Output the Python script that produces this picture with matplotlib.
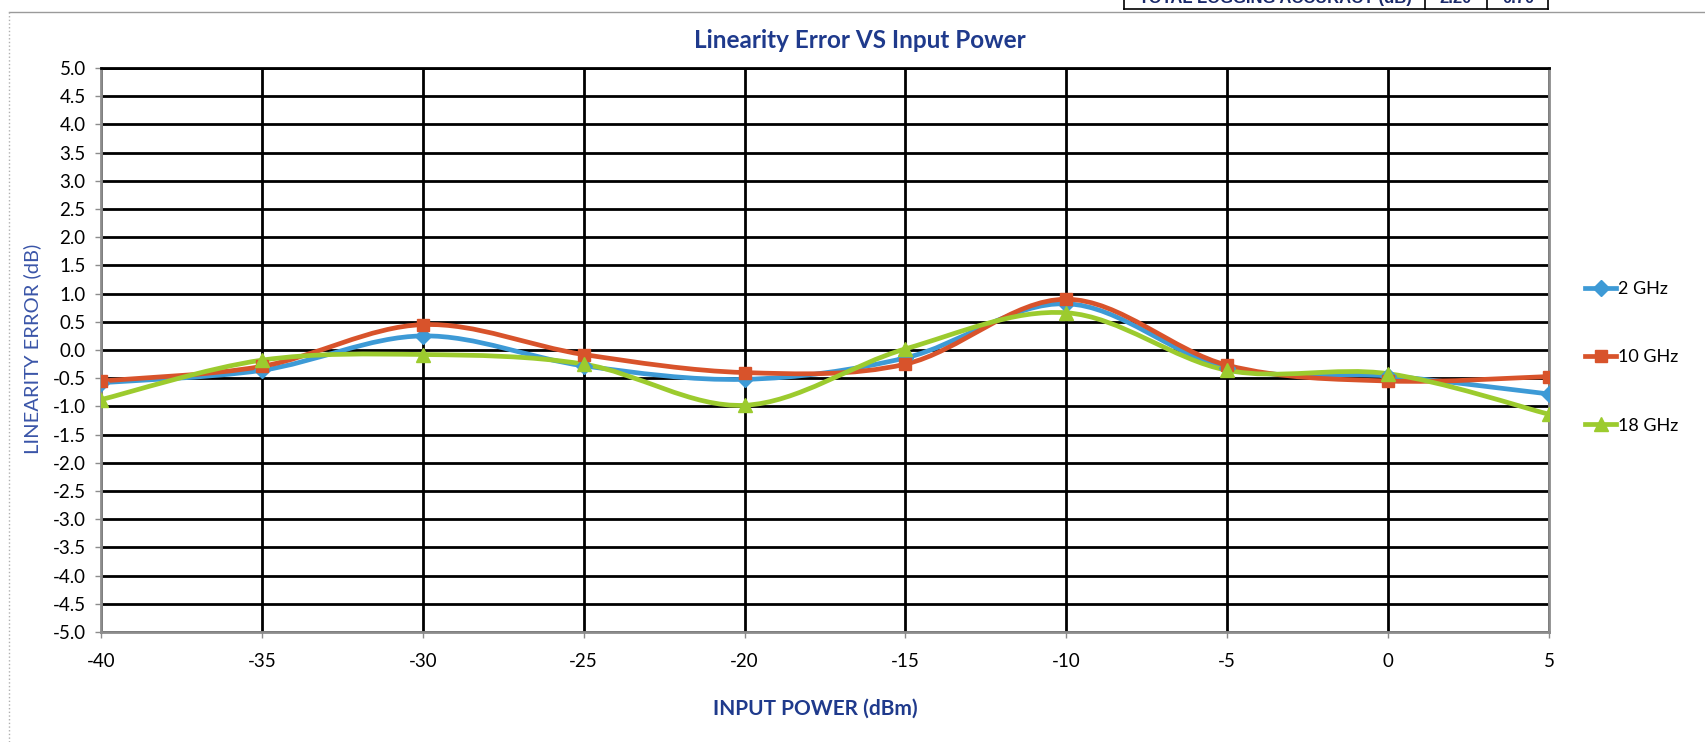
import matplotlib
matplotlib.use("Agg")
import matplotlib.pyplot as plt
from matplotlib.lines import Line2D
from matplotlib.path import Path
from matplotlib.patches import PathPatch
import numpy as np

# data
input_power = [-40, -35, -30, -25, -20, -15, -10, -5, 0, 5]
err_2ghz = [-0.58, -0.36, 0.25, -0.28, -0.52, -0.14, 0.82, -0.32, -0.46, -0.78]
err_10ghz = [-0.55, -0.29, 0.45, -0.08, -0.40, -0.25, 0.90, -0.27, -0.55, -0.47]
err_18ghz = [-0.88, -0.18, -0.08, -0.25, -0.98, 0.02, 0.66, -0.36, -0.42, -1.14]
series_names = ["2 GHz", "10 GHz", "18 GHz"]
x_ticks = [-40, -35, -30, -25, -20, -15, -10, -5, 0, 5]
y_ticks = [v / 2 for v in range(-10, 11)]

C_BLUE = "#3d9ad6"
C_RED = "#d8532b"
C_GREEN = "#9ccb2e"
C_NAVY = "#1f3a8c"
FONT = ["Lato", "DejaVu Sans"]

plt.rcParams["font.family"] = FONT
plt.rcParams["axes.unicode_minus"] = False


def smooth_path(xs, ys):
  # Excel-style smoothed line: cubic Bezier segments through the points
  p = np.column_stack([xs, ys]).astype(float)
  n = len(p)
  verts = [p[0]]
  codes = [Path.MOVETO]
  for i in range(n - 1):
    p0 = p[i - 1] if i > 0 else p[i]
    p1, p2 = p[i], p[i + 1]
    p3 = p[i + 2] if i + 2 < n else p[i + 1]
    verts += [p1 + (p2 - p0) / 6, p2 - (p3 - p1) / 6, p2]
    codes += [Path.CURVE4] * 3
  return Path(verts, codes)


fig = plt.figure(figsize=(17.06, 7.42), dpi=100)
ax = fig.add_axes([0.0592, 0.1482, 0.8488, 0.7602])

styles = [
  (err_2ghz, C_BLUE, "D", 8),
  (err_10ghz, C_RED, "s", 9),
  (err_18ghz, C_GREEN, "^", 10),
]
handles = []
for (vals, col, mk, ms), name in zip(styles, series_names):
  ax.add_patch(PathPatch(smooth_path(input_power, vals), facecolor="none",
                         edgecolor=col, lw=3.4, zorder=3, capstyle="round"))
  ax.plot(input_power, vals, linestyle="none", marker=mk, ms=ms,
          color=col, mec=col, zorder=4)
  handles.append(Line2D([], [], color=col, lw=3.4, marker=mk, ms=ms,
                        mec=col, label=name))

ax.set_xlim(-40, 5)
ax.set_ylim(-5, 5)
ax.set_xticks(x_ticks)
ax.set_yticks(y_ticks)
ax.set_yticklabels([f"{v:.1f}" for v in y_ticks])
ax.grid(True, color="black", lw=2.0, zorder=1)
ax.set_axisbelow(True)
for s in ax.spines.values():
  s.set_color("#8c8c8c")
  s.set_linewidth(2)
ax.spines["top"].set_color("black")
ax.tick_params(axis="both", labelsize=13.5, length=4, width=1,
               color="#8c8c8c")
ax.tick_params(axis="x", pad=11)
ax.tick_params(axis="y", pad=7)

fig.text(0.504, 0.946, "Linearity Error VS Input Power", ha="center",
         va="center", fontsize=17.5, fontweight="bold", color=C_NAVY)
fig.text(0.019, 0.53, "LINEARITY ERROR (dB)", rotation=90, ha="center",
         va="center", fontsize=14.5, color="#3a55a8")
fig.text(0.478, 0.045, "INPUT POWER (dBm)", ha="center", va="center",
         fontsize=15, fontweight="bold", color=C_NAVY)

ax.legend(handles=handles, loc="center left", bbox_to_anchor=(1.02, 0.487),
          frameon=False, fontsize=13, labelspacing=2.9, handlelength=1.7,
          handletextpad=0.1, borderaxespad=0)

# scanned page border and the cut-off table at the top
fig.add_artist(Line2D([0.005, 1.0], [0.984, 0.984], transform=fig.transFigure,
                      color="#9a9a9a", lw=1))
fig.add_artist(Line2D([0.005, 0.005], [0.0, 0.984], transform=fig.transFigure,
                      color="#b0b0b0", lw=1, ls=":"))
for xl in [1124, 1425, 1487, 1548]:
  fig.add_artist(Line2D([xl / 1706, xl / 1706], [1 - 9 / 742, 1.0],
                        transform=fig.transFigure, color="black", lw=1.2))
fig.add_artist(Line2D([1124 / 1706, 1548 / 1706], [1 - 9 / 742, 1 - 9 / 742],
                      transform=fig.transFigure, color="black", lw=1.2))
for txt, xc in [("TOTAL LOGGING ACCURACY (dB)", 1275), ("2.20", 1456),
                ("0.70", 1518)]:
  fig.text(xc / 1706, 1 - 3 / 742, txt, ha="center", va="baseline",
           fontsize=12, fontweight="bold", color="#1a2a6a",
           family=["Liberation Sans", "DejaVu Sans"])

fig.savefig("out.png", dpi=100, facecolor="white")
